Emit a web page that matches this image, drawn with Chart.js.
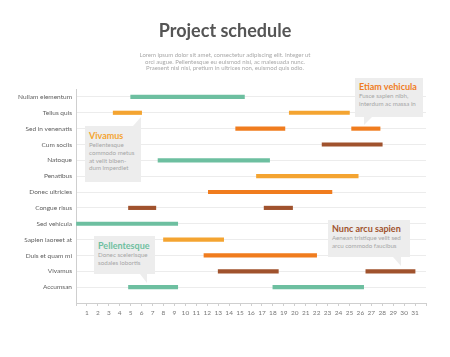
<!DOCTYPE html>
<html>
<head>
<meta charset="utf-8">
<script src="https://cdn.jsdelivr.net/npm/chart.js@4"></script>
<style>
  html, body { margin: 0; padding: 0; background: #fff; }
  #wrap { position: relative; width: 450px; height: 357px; overflow: hidden; font-family: Lato, "Open Sans", sans-serif; }
  canvas { position: absolute; left: 0; top: 0; }
  .title { position: absolute; left: 0; width: 450px; top: 19px; text-align: center; font-weight: 700; font-size: 18px; line-height: 22px; color: #555; }
  .sub { position: absolute; left: 0; width: 450px; top: 52px; text-align: center; font-size: 6px; line-height: 6.7px; color: #a8a8a8; }
  .box { position: absolute; background: #ededed; padding: 0 0 0 4px; box-sizing: border-box; }
  .box h4 { margin: 0; font-size: 9px; font-weight: 700; line-height: 10px; }
  .box p { margin: 0; font-size: 6.2px; line-height: 7.8px; color: #a6a6a6; }
  .tail { position: absolute; background: #ededed; }
</style>
</head>
<body>
<div id="wrap">
  <canvas id="c" width="450" height="357"></canvas>
  <div class="title">Project schedule</div>
  <div class="sub">Lorem ipsum dolor sit amet, consectetur adipiscing elit. Integer ut<br>orci augue. Pellentesque eu euismod nisi, ac malesuada nunc.<br>Praesent nisl nisi, pretium in ultrices non, euismod quis odio.</div>

  <div class="box" style="left:85px;top:126px;width:56px;height:56px;padding-top:5px;">
    <h4 style="color:#f4a431">Vivamus</h4>
    <p>Pellentesque<br>commodo metus<br>at velit biben-<br>dum imperdiet</p>
  </div>
  <div class="tail" style="left:133px;top:117px;width:8px;height:9px;clip-path:polygon(0 100%,100% 100%,100% 0);"></div>

  <div class="box" style="left:355px;top:78px;width:68px;height:39px;padding-top:4px;">
    <h4 style="color:#f07c1e">Etiam vehicula</h4>
    <p>Fusce sapien nibh,<br>interdum ac massa in</p>
  </div>
  <div class="tail" style="left:364px;top:117px;width:8px;height:8px;clip-path:polygon(0 0,100% 0,0 100%);"></div>

  <div class="box" style="left:94px;top:236px;width:61px;height:38px;padding-top:5px;">
    <h4 style="color:#6dbfa0">Pellentesque</h4>
    <p>Donec scelerisque<br>sodales lobortis</p>
  </div>
  <div class="tail" style="left:140px;top:274px;width:7px;height:9px;clip-path:polygon(0 0,100% 0,100% 100%);"></div>

  <div class="box" style="left:328px;top:220px;width:82px;height:37px;padding-top:4px;">
    <h4 style="color:#a0522d">Nunc arcu sapien</h4>
    <p>Aenean tristique velit sed<br>arcu commodo faucibus</p>
  </div>
  <div class="tail" style="left:393px;top:257px;width:8px;height:9px;clip-path:polygon(0 0,100% 0,100% 100%);"></div>
</div>
<script>
const categories = ['Nullam elementum','Tellus quis','Sed in venenatis','Cum sociis','Natoque','Penatibus','Donec ultricies','Congue risus','Sed vehicula','Sapien laoreet at','Duis et quam mi','Vivamus','Accumsan'];
const phase1Start = [5, 3.4, 14.6, 22.5, 7.5, 16.5, 12.1, 4.8, 0, 8, 11.7, 13, 4.8];
const phase1End   = [15.4, 6, 19.1, 28, 17.7, 25.8, 23.4, 7.3, 9.3, 13.5, 22, 18.5, 9.3];
const phase2Start = [null, 19.5, 25.2, null, null, null, null, 17.2, null, null, null, 26.5, 18];
const phase2End   = [null, 25, 27.8, null, null, null, null, 19.8, null, null, null, 31, 26.3];
const dayLabels = [1,2,3,4,5,6,7,8,9,10,11,12,13,14,15,16,17,18,19,20,21,22,23,24,25,26,27,28,29,30,31];

const palette = ['#6dbfa0', '#f4a431', '#f07c1e', '#a0522d'];
const colorFor = ctx => palette[ctx.dataIndex % palette.length];

function toPoints(starts, ends) {
  return categories.map((c, i) => ({ y: i, x: starts[i] == null ? null : [starts[i], ends[i]] }));
}

new Chart(document.getElementById('c'), {
  type: 'bar',
  data: {
    datasets: [
      { label: 'Phase 1', data: toPoints(phase1Start, phase1End), backgroundColor: colorFor, barThickness: 3.5, borderSkipped: false, grouped: false },
      { label: 'Phase 2', data: toPoints(phase2Start, phase2End), backgroundColor: colorFor, barThickness: 3.5, borderSkipped: false, grouped: false }
    ]
  },
  options: {
    indexAxis: 'y',
    responsive: false,
    animation: false,
    devicePixelRatio: 1,
    layout: { padding: { top: 89, right: 24, bottom: 34, left: 0 } },
    plugins: { legend: { display: false }, tooltip: { enabled: false } },
    scales: {
      x: {
        type: 'linear', min: 0, max: 32,
        border: { display: true, color: '#cfcfcf' },
        grid: { drawOnChartArea: false, color: '#cfcfcf', tickLength: 3 },
        afterBuildTicks: s => { s.ticks = [0].concat(dayLabels).concat([32]).map(v => ({ value: v })); },
        ticks: {
          autoSkip: false, maxRotation: 0, padding: 3,
          color: '#777', font: { family: 'Lato', size: 6.5 },
          callback: v => dayLabels.includes(v) ? String(v) : ''
        },
        afterFit: s => { s.height = 20; }
      },
      y: {
        type: 'linear', reverse: true, min: -0.5, max: 13, offset: false,
        border: { display: true, color: '#cfcfcf' },
        grid: { color: '#ececec', drawTicks: false, offset: false },
        afterBuildTicks: s => { s.ticks = categories.map((c, i) => ({ value: i })); },
        ticks: {
          autoSkip: false, padding: 4,
          color: '#5e5e5e', font: { family: 'Lato', size: 6.5 },
          callback: v => categories[v] ?? ''
        },
        afterFit: s => { s.width = 76; }
      }
    }
  }
});
</script>
</body>
</html>
